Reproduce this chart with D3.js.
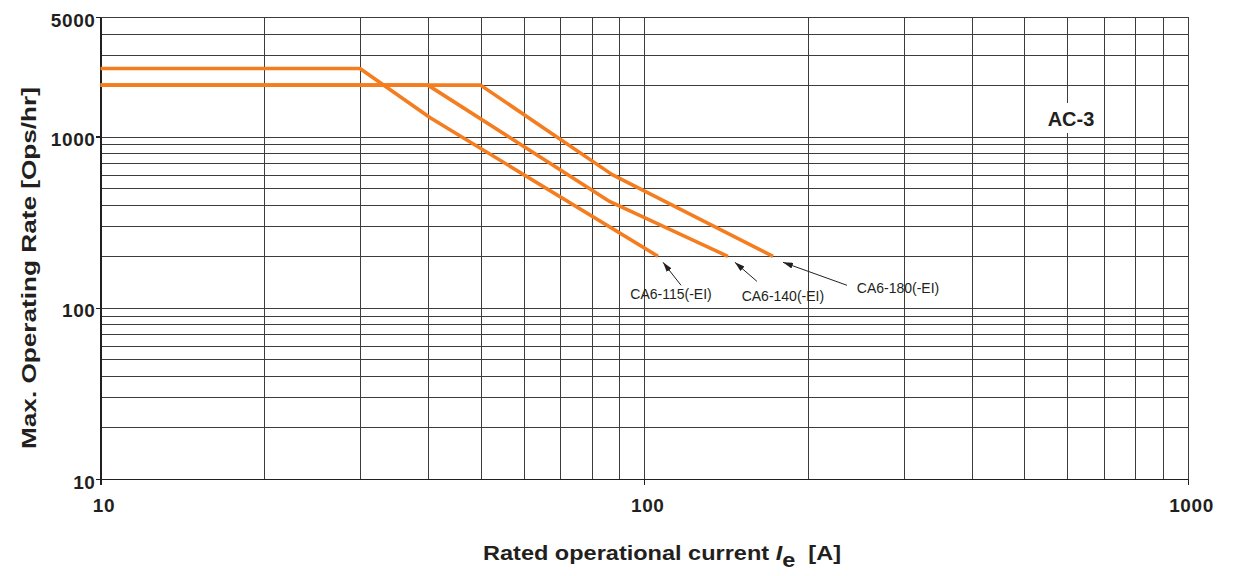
<!DOCTYPE html>
<html>
<head>
<meta charset="utf-8">
<script src="https://cdn.jsdelivr.net/npm/d3@7"></script>
<style>
  body { margin: 0; background: #fff; }
  svg text { font-family: "Liberation Sans", Arial, Helvetica, sans-serif; fill: #231f20; }
  .grid line { stroke: #3c3c3c; stroke-width: 1; shape-rendering: crispEdges; }
  .grid path { display: none; }
  .axis path, .axis line { stroke: #231f20; stroke-width: 1.3; shape-rendering: crispEdges; }
  .axis text { font-size: 19px; font-weight: bold; letter-spacing: 0.6px; }
  .curve { fill: none; stroke: #f47d20; stroke-width: 3.6; stroke-linejoin: round; }
  .pointer { stroke: #231f20; stroke-width: 1; }
  .curve-label { font-size: 14px; }
</style>
</head>
<body>
<svg id="chart" width="1233" height="576"></svg>
<script>
// values (current in A, rate in ops/hr)
var seriesNames = ["CA6-115(-EI)", "CA6-140(-EI)", "CA6-180(-EI)"];
var current115 = [10, 30, 40.4, 106];
var rate115    = [2500, 2500, 1290, 200];
var current140 = [10, 40, 86.5, 142.5];
var rate140    = [2000, 2000, 417, 200];
var current180 = [10, 50, 87.3, 172.5];
var rate180    = [2000, 2000, 600, 200];

var xTickLabels = [10, 100, 1000];
var yTickLabels = [10, 100, 1000, 5000];

var svg = d3.select("#chart");
// note: "top" is taken by window.top, so use plot* names
var plotLeft = 100.5, plotRight = 1188, plotTop = 17, plotBottom = 479;

var x = d3.scaleLog().domain([10, 1000]).range([plotLeft, plotRight]);
var y = d3.scaleLog().domain([10, 5000]).range([plotBottom, plotTop]);

// grid
svg.append("g")
  .attr("class", "grid")
  .attr("transform", "translate(0," + plotBottom + ")")
  .call(d3.axisBottom(x).tickValues(x.ticks()).tickSize(-(plotBottom - plotTop)).tickFormat(""));

svg.append("g")
  .attr("class", "grid")
  .attr("transform", "translate(" + plotLeft + ",0)")
  .call(d3.axisLeft(y).tickValues(y.ticks()).tickSize(-(plotRight - plotLeft)).tickFormat(""));

// axes
var xAxis = svg.append("g")
  .attr("class", "axis")
  .attr("transform", "translate(0," + plotBottom + ")")
  .call(d3.axisBottom(x).tickValues(xTickLabels).tickSize(6).tickSizeOuter(0).tickPadding(14).tickFormat(d3.format("d")));
xAxis.selectAll("text").attr("dx", "3");

var yAxis = svg.append("g")
  .attr("class", "axis")
  .attr("transform", "translate(" + plotLeft + ",0)")
  .call(d3.axisLeft(y).tickValues(yTickLabels).tickSize(5).tickSizeOuter(0).tickPadding(0).tickFormat(d3.format("d")));
yAxis.selectAll("text").attr("dy", "0.48em");

// arrow head
svg.append("defs").append("marker")
  .attr("id", "head")
  .attr("markerUnits", "userSpaceOnUse")
  .attr("viewBox", "0 0 10 6")
  .attr("refX", 10).attr("refY", 3)
  .attr("markerWidth", 10).attr("markerHeight", 6)
  .attr("orient", "auto")
  .append("path")
  .attr("d", "M0,0L10,3L0,6Z")
  .attr("fill", "#231f20");

// curves
var seriesData = [
  d3.zip(current115, rate115),
  d3.zip(current140, rate140),
  d3.zip(current180, rate180)
];

var line = d3.line()
  .x(function(d) { return x(d[0]); })
  .y(function(d) { return y(d[1]); });

svg.selectAll(".curve")
  .data(seriesData)
  .enter().append("path")
  .attr("class", "curve")
  .attr("d", line);

// labels with pointers, offsets from the end of each curve
var labelOffsets = [
  { tx: 13, ty: 43, x1: 23, y1: 29, x2: 5, y2: 6 },
  { tx: 55, ty: 45, x1: 29, y1: 25, x2: 7, y2: 6 },
  { tx: 125, ty: 37, x1: 74, y1: 29, x2: 10, y2: 6 }
];

seriesData.forEach(function(s, i) {
  var end = s[s.length - 1];
  var ex = x(end[0]), ey = y(end[1]);
  var o = labelOffsets[i];
  svg.append("line")
    .attr("class", "pointer")
    .attr("x1", ex + o.x1).attr("y1", ey + o.y1)
    .attr("x2", ex + o.x2).attr("y2", ey + o.y2)
    .attr("marker-end", "url(#head)");
  svg.append("text")
    .attr("class", "curve-label")
    .attr("x", ex + o.tx).attr("y", ey + o.ty)
    .attr("text-anchor", "middle")
    .text(seriesNames[i]);
});

// AC-3 tag
svg.append("rect")
  .attr("x", 1042).attr("y", 103).attr("width", 58).attr("height", 30)
  .attr("fill", "#fff");
svg.append("text")
  .attr("x", 1071).attr("y", 126)
  .attr("text-anchor", "middle")
  .style("font-size", "20px").style("font-weight", "bold")
  .text("AC-3");

// axis titles
svg.append("text")
  .attr("transform", "translate(36," + ((plotTop + plotBottom) / 2 + 20) + ") rotate(-90)")
  .attr("text-anchor", "middle")
  .attr("textLength", 362)
  .attr("lengthAdjust", "spacingAndGlyphs")
  .style("font-size", "21px").style("font-weight", "bold")
  .text("Max. Operating Rate [Ops/hr]");

var xt = svg.append("text")
  .attr("x", 662).attr("y", 560)
  .attr("text-anchor", "middle")
  .attr("textLength", 358)
  .attr("lengthAdjust", "spacingAndGlyphs")
  .style("font-size", "20px").style("font-weight", "bold");
xt.append("tspan").text("Rated operational current ");
xt.append("tspan").style("font-style", "italic").text("I");
xt.append("tspan").attr("dy", 7).text("e");
xt.append("tspan").attr("dy", -7).text("\u00a0\u00a0[A]");
</script>
</body>
</html>
